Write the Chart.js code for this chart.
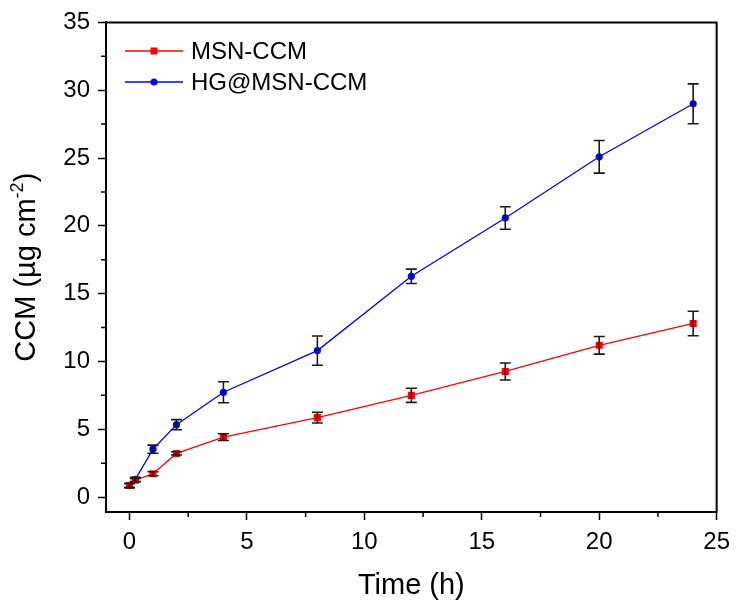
<!DOCTYPE html>
<html><head><meta charset="utf-8">
<script src="https://cdn.jsdelivr.net/npm/chart.js@4"></script>
<style>html,body{margin:0;padding:0;background:#fff}#wrap{width:738px;height:611px}</style>
</head><body><div id="wrap"><canvas id="c" width="738" height="611"></canvas></div>
<script>
// ---- data ----
const timeH = [0, 0.25, 1, 2, 4, 8, 12, 16, 20, 24];
const msnCCM = [0.85, 1.25, 1.72, 3.22, 4.42, 5.86, 7.5, 9.26, 11.19, 12.8];
const msnCCMErr = [0.15, 0.12, 0.15, 0.12, 0.25, 0.4, 0.52, 0.63, 0.65, 0.9];
const hgMsnCCM = [0.85, 1.3, 3.53, 5.34, 7.73, 10.8, 16.28, 20.58, 25.09, 29.0];
const hgMsnCCMErr = [0.15, 0.15, 0.3, 0.37, 0.77, 1.08, 0.53, 0.83, 1.2, 1.47];
const seriesNames = ['MSN-CCM', 'HG@MSN-CCM'];
const xTitle = 'Time (h)';
const yTitleMain = 'CCM (\u00b5g cm';
const yTitleSup = '-2';
const yTitleEnd = ')';

const FONT = "'Liberation Sans', Arial, Helvetica, sans-serif";
const RED = 'rgb(255,0,0)';
const BLUE = 'rgb(0,0,255)';

const errorBars = {
  id: 'errorBars',
  afterDatasetsDraw(chart) {
    const ctx = chart.ctx, xs = chart.scales.x, ys = chart.scales.y;
    ctx.save();
    ctx.strokeStyle = '#1a1a1a';
    ctx.lineWidth = 1.6;
    chart.data.datasets.forEach(ds => {
      ds.errors.forEach((e, i) => {
        const p = ds.data[i];
        const x = xs.getPixelForValue(p.x);
        const y1 = ys.getPixelForValue(p.y + e), y2 = ys.getPixelForValue(p.y - e);
        ctx.beginPath();
        ctx.moveTo(x, y1); ctx.lineTo(x, y2);
        ctx.moveTo(x - 5.5, y1); ctx.lineTo(x + 5.5, y1);
        ctx.moveTo(x - 5.5, y2); ctx.lineTo(x + 5.5, y2);
        ctx.stroke();
      });
    });
    ctx.restore();
  }
};

const decor = {
  id: 'decor',
  afterDraw(chart) {
    const ctx = chart.ctx, a = chart.chartArea, xs = chart.scales.x, ys = chart.scales.y;
    ctx.save();
    // frame top/right
    ctx.strokeStyle = '#000'; ctx.lineWidth = 2;
    ctx.beginPath();
    ctx.moveTo(a.left - 1, a.top); ctx.lineTo(a.right, a.top); ctx.lineTo(a.right, a.bottom + 1);
    ctx.stroke();
    // minor ticks
    ctx.lineWidth = 1.5;
    ctx.beginPath();
    for (let v = 2.5; v < 25; v += 5) { const x = xs.getPixelForValue(v); ctx.moveTo(x, a.bottom); ctx.lineTo(x, a.bottom + 5); }
    for (let v = 2.5; v < 35; v += 5) { const y = ys.getPixelForValue(v); ctx.moveTo(a.left, y); ctx.lineTo(a.left - 5, y); }
    ctx.stroke();
    // axis titles
    ctx.fillStyle = '#000';
    ctx.font = '29px ' + FONT;
    ctx.textAlign = 'center'; ctx.textBaseline = 'alphabetic';
    ctx.fillText(xTitle, (a.left + a.right) / 2, 594);
    ctx.save();
    ctx.translate(35, (a.top + a.bottom) / 2);
    ctx.rotate(-Math.PI / 2);
    ctx.font = '29px ' + FONT;
    const w1 = ctx.measureText(yTitleMain).width;
    ctx.font = '18px ' + FONT;
    const w2 = ctx.measureText(yTitleSup).width;
    ctx.font = '29px ' + FONT;
    const w3 = ctx.measureText(yTitleEnd).width;
    let sx = -(w1 + w2 + w3) / 2;
    ctx.textAlign = 'left';
    ctx.fillText(yTitleMain, sx, 0); sx += w1;
    ctx.font = '18px ' + FONT;
    ctx.fillText(yTitleSup, sx, -12); sx += w2;
    ctx.font = '29px ' + FONT;
    ctx.fillText(yTitleEnd, sx, 0);
    ctx.restore();
    // legend
    const rows = [51, 82];
    chart.data.datasets.forEach((ds, i) => {
      const y = rows[i];
      ctx.strokeStyle = ds.borderColor; ctx.lineWidth = 1.3;
      ctx.beginPath(); ctx.moveTo(125, y); ctx.lineTo(183, y); ctx.stroke();
      ctx.fillStyle = ds.backgroundColor;
      if (ds.pointStyle === 'rect') { ctx.fillRect(154 - 3.5, y - 3.5, 7, 7); }
      else { ctx.beginPath(); ctx.arc(154, y, 3.5, 0, Math.PI * 2); ctx.fill(); }
      ctx.fillStyle = '#000';
      ctx.font = '24px ' + FONT;
      ctx.textAlign = 'left'; ctx.textBaseline = 'middle';
      ctx.fillText(ds.label, 191, y + 1);
    });
    ctx.restore();
  }
};

const majorColor = (c) => (c.tick && Math.abs(c.tick.value % 5) < 1e-9 ? '#000' : 'rgba(0,0,0,0)');

new Chart(document.getElementById('c'), {
  type: 'line',
  data: {
    datasets: [
      { label: seriesNames[0], data: timeH.map((t, i) => ({ x: t, y: msnCCM[i] })), errors: msnCCMErr,
        borderColor: RED, backgroundColor: RED, borderWidth: 1.3, pointStyle: 'rect', pointRadius: 5,
        pointBorderWidth: 0, tension: 0 },
      { label: seriesNames[1], data: timeH.map((t, i) => ({ x: t, y: hgMsnCCM[i] })), errors: hgMsnCCMErr,
        borderColor: BLUE, backgroundColor: BLUE, borderWidth: 1.3, pointStyle: 'circle', pointRadius: 3.6,
        pointBorderWidth: 0, tension: 0 }
    ]
  },
  options: {
    responsive: false, animation: false, devicePixelRatio: 1,
    layout: { padding: { top: 19, right: 18, left: 0, bottom: 0 } },
    plugins: { legend: { display: false }, tooltip: { enabled: false } },
    scales: {
      x: {
        type: 'linear', min: -1, max: 25,
        afterFit: s => { s.height = 99; },
        grid: { drawOnChartArea: false, drawTicks: true, tickLength: 8, tickWidth: 1.5, tickColor: majorColor },
        border: { display: true, color: '#000', width: 2 },
        ticks: { stepSize: 2.5, includeBounds: false, autoSkip: false, maxRotation: 0, padding: 8, color: '#000',
          font: { family: FONT, size: 24 },
          callback: v => (Math.abs(v % 5) < 1e-9 ? String(v) : '') }
      },
      y: {
        type: 'linear', min: -1.1, max: 35,
        afterFit: s => { s.width = 106; },
        grid: { drawOnChartArea: false, drawTicks: true, tickLength: 8, tickWidth: 1.5, tickColor: majorColor },
        border: { display: true, color: '#000', width: 2 },
        ticks: { stepSize: 2.5, includeBounds: false, autoSkip: false, padding: 8, color: '#000',
          font: { family: FONT, size: 24 },
          callback: v => (Math.abs(v % 5) < 1e-9 ? String(v) : '') }
      }
    }
  },
  plugins: [errorBars, decor]
});
</script>
</body></html>
